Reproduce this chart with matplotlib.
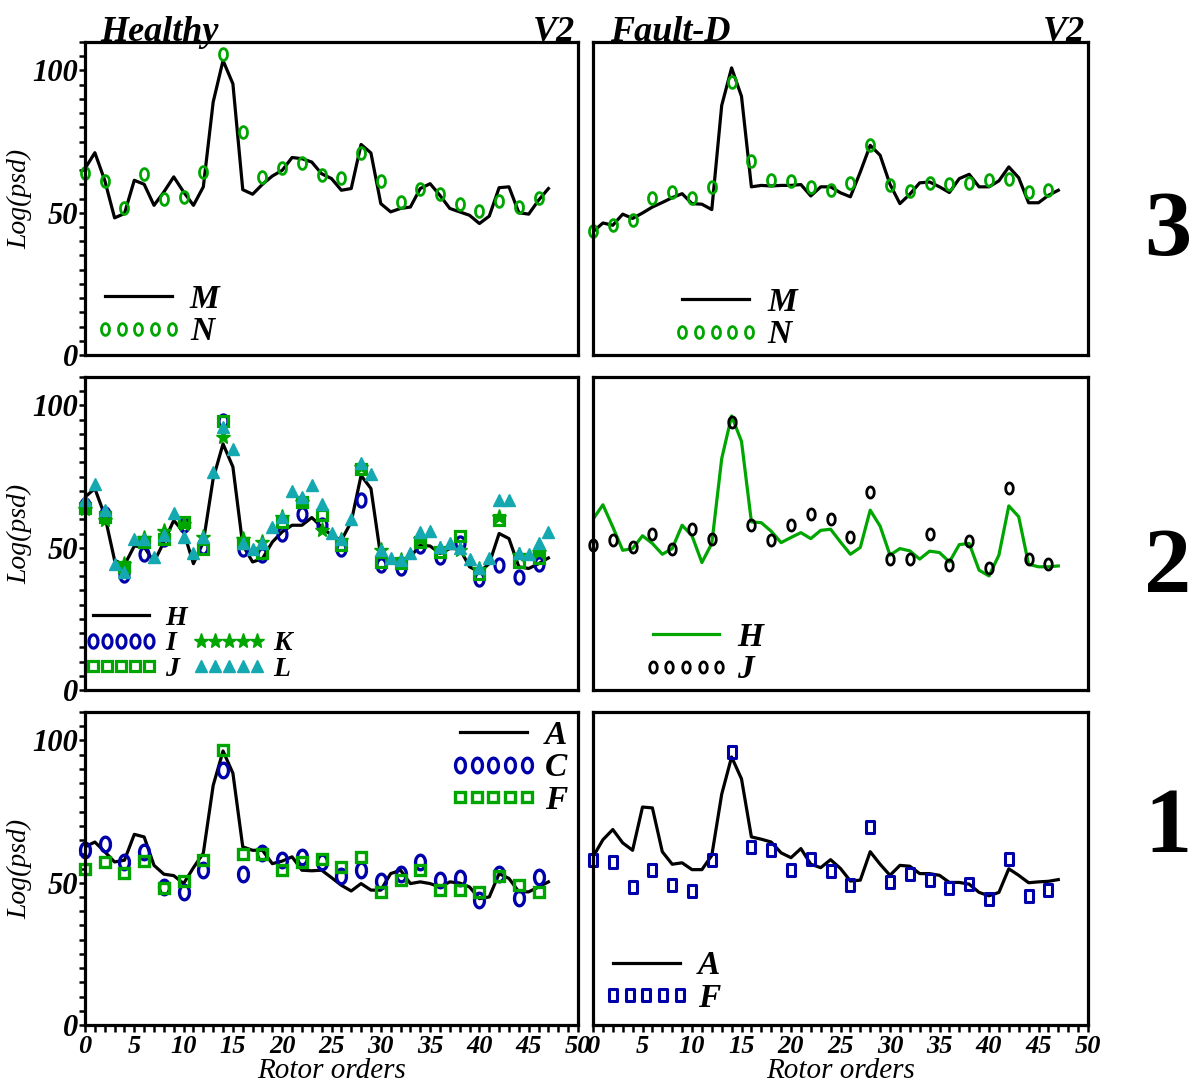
import numpy as np
import matplotlib
matplotlib.use('Agg')
import matplotlib.pyplot as plt
from matplotlib.path import Path
from matplotlib.lines import Line2D

plt.rcParams['font.family'] = ['Liberation Serif', 'DejaVu Serif']
plt.rcParams['font.weight'] = 'bold'
plt.rcParams['font.style'] = 'italic'

orders = np.arange(48)
orders2 = np.arange(0, 48, 2)

# row 3
m_healthy = [65.5, 71.1, 61.4, 48.2, 49.7, 61.4, 60.0, 52.6, 57.3, 62.6, 57.3, 52.6, 59.1, 88.9, 103.5, 95.3,
             58.1, 56.5, 60.0, 62.9, 64.9, 69.4, 69.0, 67.8, 63.7, 62.0, 57.9, 58.5, 74.0, 71.0, 53.2, 50.3,
             51.5, 52.0, 58.5, 60.2, 56.1, 51.5, 50.3, 49.1, 46.2, 48.8, 58.8, 59.1, 50.0, 49.5, 54.4, 58.5]
n_healthy = [64.0, 61.2, 51.8, 63.5, 55.0, 55.6, 64.2, 105.8, 78.4, 62.6, 65.8, 67.6,
             63.2, 62.3, 71.0, 61.2, 53.8, 58.5, 56.7, 52.9, 50.6, 54.2, 52.0, 55.3]
m_fault = [43.3, 46.4, 45.6, 49.5, 48.0, 49.9, 52.0, 53.6, 55.3, 56.7, 53.2, 53.0, 51.1, 87.7, 100.9, 90.9,
           59.1, 59.6, 59.4, 59.6, 59.6, 59.9, 55.9, 59.1, 59.1, 57.0, 55.6, 64.3, 73.7, 70.2, 60.0, 53.2,
           56.5, 60.5, 60.8, 59.1, 57.1, 62.0, 63.5, 59.1, 59.1, 61.2, 66.1, 62.3, 53.5, 53.5, 56.1, 57.9]
n_fault = [43.6, 45.6, 47.4, 55.1, 57.3, 55.3, 59.1, 96.0, 68.2, 61.5, 61.2, 59.1,
           57.9, 60.5, 73.7, 59.8, 57.5, 60.5, 60.0, 60.5, 61.6, 62.0, 57.3, 58.1]

# row 2
h_healthy = [67.8, 70.8, 61.4, 45.6, 43.9, 50.6, 50.3, 45.0, 52.0, 59.6, 55.6, 44.4, 52.0, 74.3, 86.5, 78.4,
             50.9, 45.0, 46.2, 52.0, 55.6, 57.9, 57.9, 60.6, 57.3, 54.4, 52.6, 59.1, 75.4, 70.8, 46.8, 45.0,
             44.4, 46.8, 50.9, 50.6, 48.0, 49.7, 49.7, 43.3, 41.5, 44.4, 55.0, 53.2, 43.3, 42.7, 44.4, 46.4]
i_healthy = [65.0, 62.0, 40.4, 47.7, 53.0, 57.9, 50.3, 94.7, 49.7, 47.4, 55.0, 62.0,
             57.9, 49.7, 66.7, 43.9, 43.0, 50.6, 46.8, 51.5, 38.9, 43.8, 39.8, 44.4]
j_healthy = [64.0, 60.9, 43.3, 52.0, 53.2, 59.1, 49.7, 94.7, 51.5, 48.0, 59.1, 66.1,
             61.6, 50.9, 77.8, 45.0, 44.8, 52.0, 48.5, 54.2, 40.9, 59.8, 45.0, 46.4]
k_healthy = [63.5, 59.6, 44.4, 53.5, 56.0, 58.5, 53.8, 88.9, 53.2, 52.0, 60.9, 66.1,
             56.1, 52.6, 78.4, 49.1, 45.6, 53.2, 49.7, 49.1, 42.4, 60.9, 47.4, 48.5]
l_healthy = [66.7, 72.5, 63.2, 44.4, 41.5, 53.0, 53.2, 46.8, 54.4, 62.3, 53.8, 48.0, 53.8, 76.6, 92.4, 84.6,
             51.5, 49.7, 51.5, 57.3, 60.9, 69.8, 67.8, 71.9, 65.5, 55.3, 53.2, 60.0, 79.9, 76.0, 49.1, 46.4,
             45.6, 48.0, 55.6, 55.8, 50.3, 51.5, 49.9, 46.2, 43.0, 46.4, 66.7, 66.7, 48.0, 47.7, 51.5, 55.6]
h_fault = [60.0, 65.1, 57.3, 49.1, 49.7, 54.2, 51.5, 47.7, 49.7, 57.9, 54.2, 44.8, 51.5, 81.3, 96.3, 87.4,
           59.1, 58.8, 55.8, 51.8, 53.6, 55.3, 53.2, 56.1, 56.5, 52.0, 47.7, 50.1, 63.2, 57.6, 47.4, 49.7,
           48.9, 46.0, 48.8, 48.3, 45.0, 51.1, 51.5, 42.1, 40.1, 47.4, 64.7, 60.9, 44.2, 43.3, 43.3, 43.6]
j_fault = [51.1, 52.6, 50.3, 55.0, 49.7, 56.7, 53.2, 94.2, 58.1, 52.6, 57.9, 62.0,
           60.0, 53.6, 69.6, 46.2, 46.2, 55.0, 43.9, 52.3, 43.0, 71.0, 46.2, 44.2]

# row 1
a_healthy = [62.6, 64.3, 60.9, 57.3, 57.9, 67.0, 66.1, 56.1, 53.0, 52.5, 49.7, 55.3, 60.4, 84.2, 96.3, 88.5,
             62.6, 61.4, 61.4, 56.7, 57.6, 59.1, 54.4, 54.2, 54.4, 51.8, 49.1, 47.1, 49.7, 47.4, 47.4, 53.2,
             54.4, 49.7, 50.3, 49.7, 48.5, 50.3, 49.9, 48.5, 44.4, 45.0, 53.2, 51.5, 46.8, 46.8, 48.5, 50.3]
c_healthy = [61.6, 63.5, 57.3, 60.9, 48.5, 46.8, 54.6, 89.5, 53.0, 60.5, 58.1, 59.1,
             57.3, 52.5, 54.6, 50.6, 53.2, 57.3, 50.9, 51.5, 43.8, 53.2, 44.6, 52.0]
f_healthy = [55.0, 57.3, 53.5, 57.6, 48.0, 50.6, 57.9, 96.7, 60.0, 60.2, 54.4, 57.3,
             58.5, 55.6, 59.1, 46.8, 50.9, 54.4, 47.4, 47.4, 46.8, 52.5, 49.1, 46.8]
a_fault = [59.1, 65.1, 68.7, 64.0, 61.4, 76.6, 76.3, 60.9, 56.5, 57.0, 54.6, 54.6, 59.6, 81.1, 94.2, 86.5,
           66.1, 65.3, 64.3, 60.5, 58.8, 62.0, 56.5, 55.3, 58.1, 55.0, 50.6, 50.9, 60.9, 56.5, 52.6, 56.1,
           55.8, 53.2, 53.2, 52.6, 50.1, 50.1, 49.5, 46.6, 45.4, 46.6, 54.9, 52.6, 50.0, 50.3, 50.5, 51.1]
f_fault = [57.9, 57.3, 48.5, 54.4, 49.1, 47.1, 58.1, 95.9, 62.6, 61.4, 54.4, 58.5,
           54.2, 49.1, 69.6, 50.1, 53.2, 50.9, 48.0, 49.7, 44.2, 58.5, 45.4, 47.4]

green = '#00a600'
blue = '#0000aa'
cyan = '#14a8b0'

t = np.linspace(0, 2 * np.pi, 41)
oval = Path(np.column_stack([0.68 * np.cos(t), np.sin(t)]))
tall_box = Path([(-0.7, -1), (0.7, -1), (0.7, 1), (-0.7, 1), (-0.7, -1)],
                [Path.MOVETO, Path.LINETO, Path.LINETO, Path.LINETO, Path.CLOSEPOLY])

serif = ['Liberation Serif', 'DejaVu Serif']
leg_font = dict(family=serif, weight='bold', style='italic', size=24)
leg_font_small = dict(family=serif, weight='bold', style='italic', size=20)

fig = plt.figure(figsize=(12, 10.88), dpi=100)

lefts = [85 / 1200, 593 / 1200]
widths = [493 / 1200, 495 / 1200]
bottoms = [1 - 355 / 1088, 1 - 690 / 1088, 1 - 1025 / 1088]
height = 313 / 1088


def make_ax(col, row):
    ax = fig.add_axes([lefts[col], bottoms[row], widths[col], height])
    ax.set_xlim(0, 50)
    ax.set_ylim(0, 110)
    for s in ax.spines.values():
        s.set_linewidth(2.3)
    if col == 0:
        ax.set_yticks([0, 50, 100])
        ax.set_yticks(np.arange(0, 111, 5), minor=True)
        ax.tick_params(axis='y', which='both', direction='out', length=4, width=1.8, pad=1, labelsize=22)
        ax.set_ylabel('Log(psd)', fontsize=20, labelpad=0)
    else:
        ax.set_yticks([])
    if row == 2:
        ax.set_xticks(np.arange(0, 51, 5))
        ax.set_xticks(np.arange(0, 51, 1), minor=True)
        ax.tick_params(axis='x', which='both', direction='out', length=5, width=1.8, pad=2, labelsize=19)
        ax.set_xlabel('Rotor orders', fontsize=21, labelpad=0)
    else:
        ax.set_xticks([])
    return ax


def scatter(ax, x, y, marker, color, ms, mew=2.0, fill=False, label=None):
    return ax.plot(x, y, linestyle='none', marker=marker, ms=ms, mew=mew, mec=color,
                   mfc=color if fill else 'none', label=label, clip_on=False)[0]


def legend(ax, loc, anchor, **kw):
    opts = dict(numpoints=5, handlelength=2.6, handletextpad=0.25, labelspacing=0.05,
                borderpad=0, borderaxespad=0, frameon=False, prop=leg_font)
    opts.update(kw)
    ax.legend(loc=loc, bbox_to_anchor=anchor, **opts)


# ---- row 3 ----
ax = make_ax(0, 0)
ax.plot(orders, m_healthy, color='black', lw=2.3, label='M')
scatter(ax, orders2, n_healthy, oval, green, 8.5, label='N')
legend(ax, 'lower left', (0.02, 0.025))
ax.text(0.03, 1.004, 'Healthy', transform=ax.transAxes, fontsize=26, ha='left', va='baseline')
ax.text(0.995, 1.004, 'V2', transform=ax.transAxes, fontsize=26, ha='right', va='baseline')

ax = make_ax(1, 0)
ax.plot(orders, m_fault, color='black', lw=2.3, label='M')
scatter(ax, orders2, n_fault, oval, green, 8.5, label='N')
legend(ax, 'lower left', (0.16, 0.015))
ax.text(0.035, 1.004, 'Fault-D', transform=ax.transAxes, fontsize=26, ha='left', va='baseline')
ax.text(0.995, 1.004, 'V2', transform=ax.transAxes, fontsize=26, ha='right', va='baseline')

# ---- row 2 ----
ax = make_ax(0, 1)
hh = ax.plot(orders, h_healthy, color='black', lw=2.3, label='H')[0]
hi = scatter(ax, orders2, i_healthy, oval, blue, 9.5, mew=2.3, label='I')
hj = scatter(ax, orders2, j_healthy, 's', green, 7.5, mew=2.3, label='J')
hk = scatter(ax, orders2, k_healthy, '*', green, 11, mew=1, fill=True, label='K')
hl = scatter(ax, orders, l_healthy, '^', cyan, 8.5, mew=1, fill=True, label='L')
blank = Line2D([], [], linestyle='none', label=' ')
ax.legend(handles=[hh, hi, hj, blank, hk, hl], ncol=2, loc='lower left', bbox_to_anchor=(0.0, 0.026),
          numpoints=5, handlelength=2.6, handletextpad=0.3, labelspacing=0.0, columnspacing=0.2,
          borderpad=0, borderaxespad=0, frameon=False, prop=leg_font_small)

ax = make_ax(1, 1)
ax.plot(orders, h_fault, color=green, lw=2.3, label='H')
scatter(ax, orders2, j_fault, oval, 'black', 8, label='J')
legend(ax, 'lower left', (0.10, 0.015))

# ---- row 1 ----
ax = make_ax(0, 2)
ax.plot(orders, a_healthy, color='black', lw=2.3, label='A')
scatter(ax, orders2, c_healthy, oval, blue, 10.5, mew=2.4, label='C')
scatter(ax, orders2, f_healthy, 's', green, 7.5, mew=2.4, label='F')
legend(ax, 'upper right', (0.978, 0.975))

ax = make_ax(1, 2)
ax.plot(orders, a_fault, color='black', lw=2.3, label='A')
scatter(ax, orders2, f_fault, tall_box, blue, 8, mew=2.2, label='F')
legend(ax, 'lower left', (0.02, 0.035))

for label, yc in zip(['3', '2', '1'], [233, 570, 830]):
    fig.text(1168 / 1200, 1 - yc / 1088, label, fontsize=68, style='normal', weight='bold',
             ha='center', va='center')

fig.savefig('out.png', dpi=100)
